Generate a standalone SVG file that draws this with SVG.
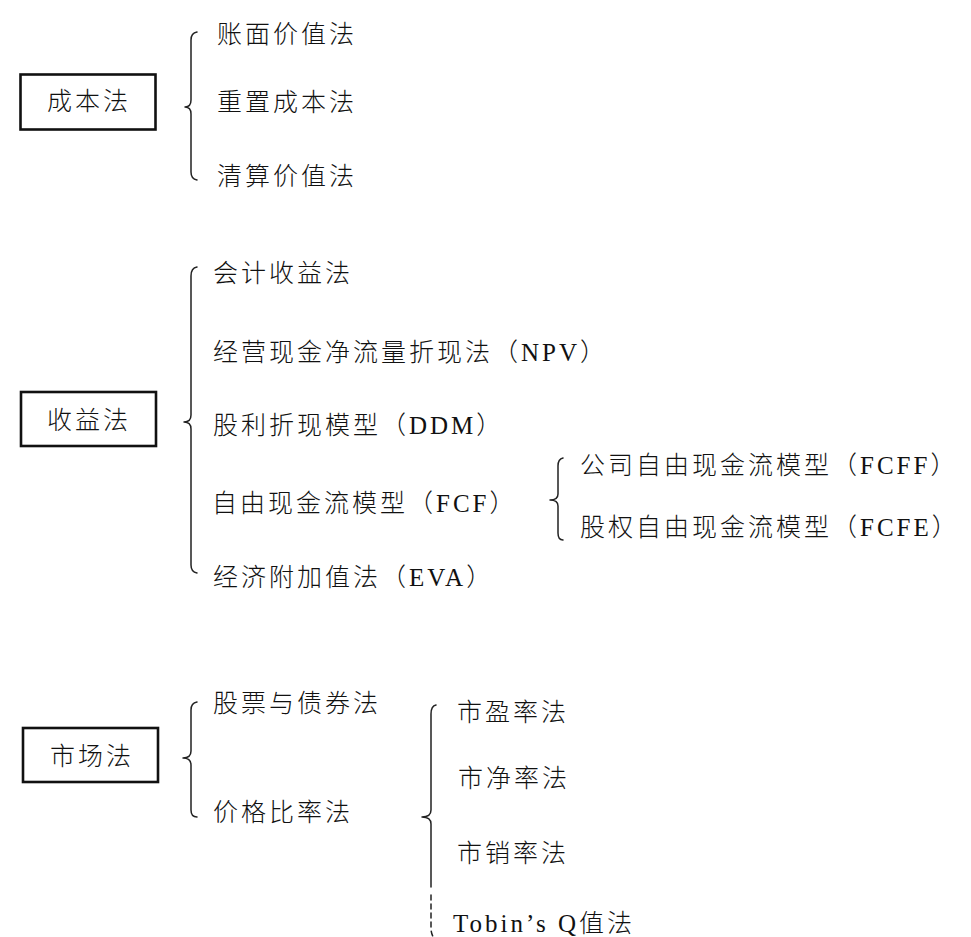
<svg xmlns="http://www.w3.org/2000/svg" width="971" height="937" viewBox="0 0 971 937">
<style>
  .t { font-family: "Liberation Serif", "Noto Sans CJK SC", serif; font-size: 25px; letter-spacing: 3px; fill: #111; font-weight: 300; }
  .box { fill: none; stroke: #111; stroke-width: 2.6; }
  .brace { fill: none; stroke: #222; stroke-width: 1.5; stroke-linecap: round; stroke-linejoin: round; }
  .dash { stroke-dasharray: 5 4; }
</style>
<rect width="971" height="937" fill="#fff"/>

<g id="connectors">
  <path class="brace" d="M197,32 Q191,33 191,40 L191,100 Q191,107 185,107 Q191,107 191,114 L191,172 Q191,179 197,180"/>
  <path class="brace" d="M197,267 Q191,268 191,276 L191,415 Q191,422 184,422 Q191,422 191,429 L191,565 Q191,572 197,573"/>
  <path class="brace" d="M563,458 Q558,459 558,466 L558,494 Q558,500 550,500 Q558,500 558,506 L558,533 Q558,540 563,540"/>
  <path class="brace" d="M197,702 Q191,703 191,710 L191,751 Q191,758 183,758 Q191,758 191,765 L191,810 Q191,817 197,817"/>
  <path class="brace" d="M436,705 Q431,706 431,714 L431,810 Q431,817 422,817 Q431,817 431,824 L431,887"/>
  <path class="brace dash" d="M431,895 L431,928 Q431,936 436,940"/>
</g>

<g id="cost">
  <rect class="box" x="20.5" y="74.5" width="135" height="55"/>
  <text class="t" x="47" y="110">成本法</text>
</g>
<g id="cost-book"><text class="t" x="217" y="43">账面价值法</text></g>
<g id="cost-replace"><text class="t" x="217" y="111">重置成本法</text></g>
<g id="cost-liquidation"><text class="t" x="217" y="185">清算价值法</text></g>

<g id="income">
  <rect class="box" x="21" y="392" width="135" height="54"/>
  <text class="t" x="47" y="429">收益法</text>
</g>
<g id="income-accounting"><text class="t" x="213" y="282">会计收益法</text></g>
<g id="income-npv"><text class="t" x="213" y="361">经营现金净流量折现法（NPV）</text></g>
<g id="income-ddm"><text class="t" x="213" y="434">股利折现模型（DDM）</text></g>
<g id="income-fcf"><text class="t" x="212" y="512">自由现金流模型（FCF）</text></g>
<g id="income-eva"><text class="t" x="213" y="586">经济附加值法（EVA）</text></g>
<g id="fcff"><text class="t" x="580" y="474">公司自由现金流模型（FCFF）</text></g>
<g id="fcfe"><text class="t" x="580" y="536">股权自由现金流模型（FCFE）</text></g>

<g id="market">
  <rect class="box" x="23" y="728" width="135" height="54"/>
  <text class="t" x="50" y="765">市场法</text>
</g>
<g id="market-stock-bond"><text class="t" x="213" y="712">股票与债券法</text></g>
<g id="market-ratio"><text class="t" x="213" y="821">价格比率法</text></g>
<g id="ratio-pe"><text class="t" x="457" y="721">市盈率法</text></g>
<g id="ratio-pb"><text class="t" x="458" y="787">市净率法</text></g>
<g id="ratio-ps"><text class="t" x="457" y="862">市销率法</text></g>
<g id="ratio-tobin"><text class="t" x="453" y="932">Tobin’s Q值法</text></g>
</svg>
